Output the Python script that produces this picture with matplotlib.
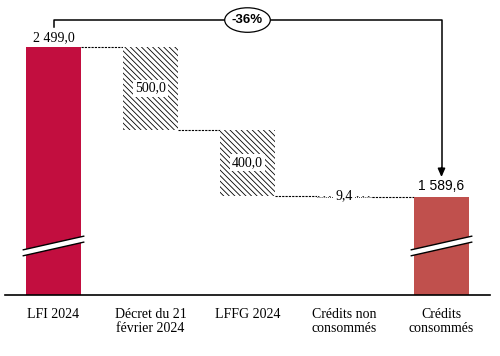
import matplotlib
matplotlib.use("Agg")
import matplotlib.pyplot as plt
from matplotlib.patches import Polygon, Ellipse

categories = ["LFI 2024", "Décret du 21\nfévrier 2024", "LFFG 2024",
              "Crédits non\nconsommés", "Crédits\nconsommés"]
values = [2499.0, -500.0, -400.0, -9.4, 1589.6]
kinds = ["total", "delta", "delta", "delta", "total"]
value_labels = ["2 499,0", "500,0", "400,0", "9,4", "1 589,6"]
change_label = "-36%"

total_colors = {0: "#C20E3F", 4: "#C0504D"}

plt.rcParams["hatch.linewidth"] = 0.6

fig = plt.figure(figsize=(5, 3.56), dpi=100)
ax = fig.add_axes([0.01, 1 - 295 / 356, 0.97, 295 / 356])

ymin, ymax = 1000, 2781
ax.set_xlim(-0.5, 4.5)
ax.set_ylim(ymin, ymax)

w = 0.557
serif = "Liberation Serif"
sans = "Liberation Sans"

running = 0.0
levels = []
for i, (v, k) in enumerate(zip(values, kinds)):
    if k == "total":
        ax.bar(i, v - ymin, bottom=ymin, width=w, color=total_colors[i],
               linewidth=0, zorder=2)
        running = v
        levels.append((v, v))
    else:
        top = running
        running = running + v
        ax.bar(i, -v, bottom=running, width=w, color="white", edgecolor="black",
               hatch="\\\\\\\\\\\\", linewidth=0, zorder=2)
        levels.append((top, running))

# connectors
for i in range(len(values) - 1):
    lvl = levels[i][1]
    ax.plot([i + w / 2, i + 1 - w / 2], [lvl, lvl], color="black",
            lw=0.8, ls=(0, (2, 1)), zorder=1)

# labels
ax.annotate(value_labels[0], (0, values[0]), xytext=(0, 2), textcoords="offset points",
            ha="center", va="bottom", fontsize=10, family=serif)
for i in (1, 2):
    mid = (levels[i][0] + levels[i][1]) / 2
    ax.text(i, mid, value_labels[i], ha="center", va="center", fontsize=10, family=serif,
            bbox=dict(boxstyle="square,pad=0.15", fc="white", ec="none"), zorder=3)
ax.plot([3 - w / 2, 3 + w / 2], [levels[3][1], levels[3][1]], color="black",
        lw=0.6, ls=(0, (1, 1.5)), zorder=2)
ax.text(3, levels[3][1] + 8, value_labels[3], ha="center", va="center", fontsize=10,
        family=serif, bbox=dict(boxstyle="square,pad=0.1", fc="white", ec="none"), zorder=3)
ax.annotate(value_labels[4], (4, values[4]), xytext=(0, 3), textcoords="offset points",
            ha="center", va="bottom", fontsize=10, family=sans)

# break marks
brk = 1296
rise = 42
half = 18
for i in (0, 4):
    xl, xr = i - w / 2 - 0.04, i + w / 2 + 0.04
    poly = Polygon([[xl, brk - rise - half], [xr, brk + rise - half],
                    [xr, brk + rise + half], [xl, brk - rise + half]],
                   closed=True, fc="white", ec="none", zorder=3)
    ax.add_patch(poly)
    for s in (-1, 1):
        ax.plot([xl, xr], [brk - rise + s * half, brk + rise + s * half],
                color="black", lw=1.0, zorder=4, solid_capstyle="butt")

# bracket with change label
yb = 2660
ax.plot([0, 0, 4, 4], [2618, yb, yb, 1760], color="black", lw=1.1, zorder=2,
        clip_on=False)
ax.annotate("", xy=(4, 1712), xytext=(4, 1770),
            arrowprops=dict(arrowstyle="-|>,head_length=0.5,head_width=0.22",
                            color="black", lw=1.1, shrinkA=0, shrinkB=0))
xc = (0 + 4) / 2
ax.add_patch(Ellipse((xc, yb), 0.47, 148, fc="white", ec="black", lw=0.9, zorder=3))
ax.text(xc, yb, change_label, ha="center", va="center", fontsize=9.5,
        family=sans, fontweight="bold", zorder=4)

ax.set_xticks(range(len(categories)))
ax.set_xticklabels(categories, family=serif, fontsize=10, linespacing=1.2)
ax.tick_params(axis="x", length=0, pad=9)
ax.set_yticks([])
for s in ("top", "right", "left"):
    ax.spines[s].set_visible(False)
ax.spines["bottom"].set_linewidth(1.2)
ax.spines["bottom"].set_zorder(5)

fig.savefig("out.png", dpi=100)
